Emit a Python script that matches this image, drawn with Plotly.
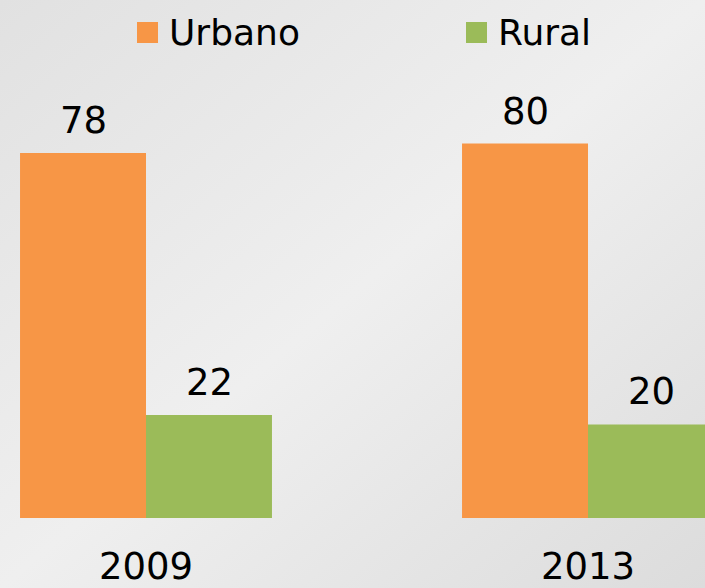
import base64
import plotly.graph_objects as go

# ---- data ----
years = ["2009", "2013"]
series_names = ["Urbano", "Rural"]
urbano = [78, 80]
rural = [22, 20]
series_values = [urbano, rural]
colors = ["#F79646", "#9BBB59"]

FONT = "DejaVu Sans, Verdana, sans-serif"

W, H = 705, 588
PLOT_B = 70  # bottom margin

fig = go.Figure()
for name, vals, col in zip(series_names, series_values, colors):
    fig.add_trace(go.Bar(
        x=years, y=vals, name=name, marker=dict(color=col, line=dict(width=0)),
        showlegend=False, hoverinfo="x+y+name",
    ))

# data labels above bars (grouped offset: half a bar width each side)
bar_px = 126
for i, vals in enumerate(series_values):
    for j, v in enumerate(vals):
        fig.add_annotation(
            x=j, y=v, xref="x", yref="y", text=str(v), showarrow=False,
            xanchor="center", yanchor="bottom",
            xshift=(i - 0.5) * bar_px, yshift=9,
            font=dict(family=FONT, size=37, color="#000000"),
        )

# manual legend (large square swatches)
plot_h = H - PLOT_B
legend_items = [(137, 21), (466, 21)]
for (x0, sz), name, col in zip(legend_items, series_names, colors):
    fig.add_shape(
        type="rect", xref="paper", yref="paper",
        x0=x0 / W, x1=(x0 + sz) / W,
        y0=(plot_h - 43) / plot_h, y1=(plot_h - 22) / plot_h,
        fillcolor=col, line=dict(width=0), layer="above",
    )
    fig.add_annotation(
        x=(x0 + sz + 9) / W, y=(plot_h - 33) / plot_h, xref="paper", yref="paper",
        text=name, showarrow=False, xanchor="left", yanchor="middle",
        font=dict(family=FONT, size=36, color="#000000"),
    )

# gradient background via inline SVG
svg = (
    '<svg xmlns="http://www.w3.org/2000/svg" width="705" height="588" preserveAspectRatio="none">'
    '<defs><linearGradient id="g" x1="0" y1="0" x2="1" y2="1">'
    '<stop offset="0" stop-color="#e1e1e1"/>'
    '<stop offset="0.5" stop-color="#efefef"/>'
    '<stop offset="1" stop-color="#dcdcdc"/>'
    '</linearGradient></defs>'
    '<rect width="705" height="588" fill="url(#g)"/></svg>'
)
uri = "data:image/svg+xml;base64," + base64.b64encode(svg.encode()).decode()
fig.add_layout_image(
    source=uri, xref="paper", yref="paper", x=0, y=1,
    sizex=1, sizey=H / plot_h, xanchor="left", yanchor="top",
    sizing="stretch", layer="below",
)

# axis scaling: category centers at 146 px and 588 px, baseline at 518 px
fig.update_layout(
    width=W, height=H,
    margin=dict(l=0, r=0, t=0, b=PLOT_B, pad=0),
    paper_bgcolor="#ebebeb", plot_bgcolor="rgba(0,0,0,0)",
    barmode="group", bargap=0.43, bargroupgap=0,
    xaxis=dict(
        type="category",
        range=[-146 / 442, (W - 146) / 442], showgrid=False, zeroline=False,
        showline=False, ticks="", ticklabelstandoff=23,
        tickfont=dict(family=FONT, size=37, color="#000000"),
        fixedrange=True,
    ),
    yaxis=dict(
        range=[0, 518 / 4.68], visible=False, fixedrange=True,
    ),
    font=dict(family=FONT),
)

fig.write_html(
    "out.html",
    config={"displayModeBar": False},
    post_script="document.body.style.margin='0';document.body.style.padding='0';",
)
